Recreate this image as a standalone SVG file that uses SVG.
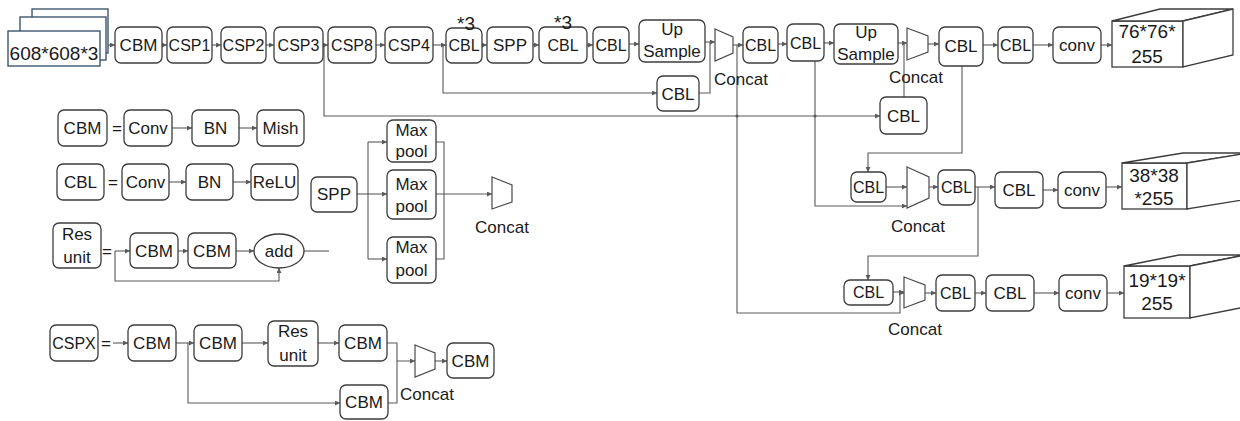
<svg xmlns="http://www.w3.org/2000/svg" width="1240" height="421" viewBox="0 0 1240 421">
  <style>
    .box { fill: #ffffff; stroke: #3c3c3c; stroke-width: 1.3; }
    .plain { fill: #ffffff; stroke: #3c3c3c; stroke-width: 1.3; }
    .inp { fill: #ffffff; stroke: #2e4a62; stroke-width: 1.3; }
    .trap { fill: #ffffff; stroke: #4a4a4a; stroke-width: 1.2; }
    .wire { fill: none; stroke: #5a5a5a; stroke-width: 1.1; }
    .arr { marker-end: url(#ah); }
    text { font-family: "Liberation Sans", Arial, sans-serif; font-size: 17px; fill: #1a1a1a; text-anchor: middle; }
    .sm { font-size: 16px; }
    .num { font-size: 19px; }
    .lbl { text-anchor: start; }
    .dot { fill: #5a5a5a; }
  </style>
  <defs>
    <marker id="ah" markerWidth="5" markerHeight="5" refX="5" refY="2.5" orient="auto" markerUnits="userSpaceOnUse">
      <path d="M0,0 L5,2.5 L0,5 z" fill="#5a5a5a"/>
    </marker>
  </defs>

  <rect width="1240" height="421" fill="#ffffff"/>

  <!-- connectors -->
  <g id="connectors">
    <!-- backbone -->
    <path class="wire arr" d="M108,45 H115"/>
    <path class="wire arr" d="M162,45 H167"/>
    <path class="wire arr" d="M212,45 H221"/>
    <path class="wire arr" d="M266,45 H274"/>
    <path class="wire arr" d="M323,45 H328"/>
    <path class="wire arr" d="M376,45 H385"/>
    <path class="wire arr" d="M433,45 H446"/>
    <path class="wire arr" d="M482,45 H487"/>
    <path class="wire arr" d="M533,45 H539"/>
    <path class="wire arr" d="M587,45 H593"/>
    <path class="wire arr" d="M629,44 H639"/>
    <path class="wire arr" d="M705,42 H715"/>
    <path class="wire" d="M699,93 H710 V42"/>
    <path class="wire arr" d="M443,45 V93 H657"/>
    <path class="wire arr" d="M324,45 V116 H880"/>
    <path class="wire arr" d="M733,45 H743"/>
    <path class="wire arr" d="M737,45 V313 H900 V293 H904"/>
    <path class="wire arr" d="M778,44 H787"/>
    <path class="wire arr" d="M824,43 H834"/>
    <path class="wire arr" d="M898,43 H907"/>
    <path class="wire" d="M904,97 V43"/>
    <path class="wire arr" d="M928,44 H939"/>
    <path class="wire arr" d="M983,45 H998"/>
    <path class="wire arr" d="M1033,45 H1053"/>
    <path class="wire arr" d="M1101,45 H1112"/>
    <circle class="dot" cx="737" cy="116" r="1.6"/>
    <circle class="dot" cx="815" cy="116" r="1.6"/>

    <!-- middle scale -->
    <path class="wire arr" d="M962,66 V153 H868 V172"/>
    <path class="wire arr" d="M815,61 V206 H907"/>
    <path class="wire arr" d="M886,187 H907"/>
    <path class="wire arr" d="M929,187 H938"/>
    <path class="wire arr" d="M975,187 H995"/>
    <path class="wire arr" d="M978,187 V256 H868 V280"/>
    <path class="wire arr" d="M1043,190 H1058"/>
    <path class="wire arr" d="M1106,187 H1122"/>

    <!-- small scale -->
    <path class="wire arr" d="M893,292 H904"/>
    <path class="wire arr" d="M925,293 H936"/>
    <path class="wire arr" d="M975,293 H986"/>
    <path class="wire arr" d="M1034,293 H1059"/>
    <path class="wire arr" d="M1107,293 H1124"/>

    <!-- CBM legend -->
    <path class="wire arr" d="M172,128 H192"/>
    <path class="wire arr" d="M239,128 H257"/>
    <!-- CBL legend -->
    <path class="wire arr" d="M169,182 H186"/>
    <path class="wire arr" d="M233,182 H251"/>
    <!-- Res unit legend -->
    <path class="wire arr" d="M115,251 H130"/>
    <path class="wire arr" d="M178,251 H188"/>
    <path class="wire arr" d="M236,251 H254"/>
    <path class="wire" d="M304,251 H329"/>
    <path class="wire arr" d="M115,251 V281 H279 V268"/>

    <!-- SPP legend -->
    <path class="wire" d="M357,194 H368"/>
    <path class="wire" d="M368,142 V259"/>
    <path class="wire arr" d="M368,142 H387"/>
    <path class="wire arr" d="M368,194 H387"/>
    <path class="wire arr" d="M368,259 H387"/>
    <path class="wire" d="M436,142 H444 V259 H436"/>
    <path class="wire arr" d="M436,194 H492" stroke-width="1.6"/>

    <!-- CSPX legend -->
    <path class="wire arr" d="M113,343 H128"/>
    <path class="wire arr" d="M176,343 H194"/>
    <path class="wire arr" d="M188,343 V403 H340"/>
    <path class="wire arr" d="M242,343 H268"/>
    <path class="wire arr" d="M318,343 H339"/>
    <path class="wire arr" d="M387,343 H397 V361 H415"/>
    <path class="wire" d="M388,403 H397 V361"/>
    <path class="wire arr" d="M435,361 H447"/>
  </g>

  <!-- input tensor -->
  <g id="input">
    <rect class="inp" x="32" y="9" width="76" height="44"/>
    <rect class="inp" x="20" y="17" width="86" height="43"/>
    <rect class="inp" x="8" y="31" width="92" height="35"/>
    <text class="num" x="54" y="60">608*608*3</text>
  </g>

  <!-- backbone -->
  <g id="cbm0"><rect class="box" x="115" y="27" width="47" height="36" rx="6"/><text x="138.5" y="51">CBM</text></g>
  <g id="csp1"><rect class="box" x="167" y="27" width="45" height="36" rx="6"/><text class="sm" x="189.5" y="51">CSP1</text></g>
  <g id="csp2"><rect class="box" x="221" y="27" width="45" height="36" rx="6"/><text class="sm" x="243.5" y="51">CSP2</text></g>
  <g id="csp3"><rect class="box" x="274" y="27" width="49" height="36" rx="6"/><text class="sm" x="298.5" y="51">CSP3</text></g>
  <g id="csp8"><rect class="box" x="328" y="27" width="48" height="36" rx="6"/><text class="sm" x="352" y="51">CSP8</text></g>
  <g id="csp4"><rect class="box" x="385" y="27" width="48" height="36" rx="6"/><text class="sm" x="409" y="51">CSP4</text></g>

  <!-- neck -->
  <g id="cbl-x3-a"><rect class="box" x="446" y="28" width="36" height="35" rx="6"/><text class="sm" x="464" y="51">CBL</text><text class="num" x="466" y="30">*3</text></g>
  <g id="spp"><rect class="box" x="487" y="27" width="46" height="36" rx="6"/><text x="510" y="51">SPP</text></g>
  <g id="cbl-x3-b"><rect class="box" x="539" y="27" width="48" height="36" rx="6"/><text class="sm" x="563" y="51">CBL</text><text class="num" x="563" y="29">*3</text></g>
  <g id="cbl-1"><rect class="box" x="593" y="27" width="36" height="36" rx="6"/><text class="sm" x="611" y="51">CBL</text></g>
  <g id="upsample-1"><rect class="box" x="639" y="20" width="66" height="42" rx="6"/><text x="672" y="35">Up</text><text x="672" y="57">Sample</text></g>
  <g id="cbl-lat-1"><rect class="box" x="657" y="76" width="42" height="35" rx="6"/><text x="678" y="100">CBL</text></g>
  <g id="concat-1">
    <polygon class="trap" points="715,29 733,37 733,53 715,61"/>
    <text x="741" y="85">Concat</text>
  </g>
  <g id="cbl-2"><rect class="box" x="743" y="27" width="35" height="36" rx="6"/><text class="sm" x="760.5" y="51">CBL</text></g>
  <g id="cbl-3"><rect class="box" x="787" y="24" width="37" height="37" rx="6"/><text class="sm" x="805.5" y="49">CBL</text></g>
  <g id="upsample-2"><rect class="box" x="834" y="24" width="64" height="40" rx="6"/><text x="866" y="38">Up</text><text x="866" y="60">Sample</text></g>
  <g id="cbl-lat-2"><rect class="box" x="880" y="97" width="47" height="37" rx="6"/><text x="903.5" y="122">CBL</text></g>
  <g id="concat-2">
    <polygon class="trap" points="907,28 928,36 928,52 907,60"/>
    <text x="916" y="83">Concat</text>
  </g>

  <!-- large-scale head -->
  <g id="cbl-h1a"><rect class="box" x="939" y="27" width="44" height="39" rx="6"/><text x="961" y="52">CBL</text></g>
  <g id="cbl-h1b"><rect class="box" x="998" y="27" width="35" height="36" rx="6"/><text class="sm" x="1015.5" y="51">CBL</text></g>
  <g id="conv-h1"><rect class="box" x="1053" y="27" width="48" height="36" rx="6"/><text x="1077" y="51">conv</text></g>
  <g id="out-76">
    <rect class="plain" x="1112" y="21" width="71" height="46"/>
    <polygon class="plain" points="1112,21 1160,9 1233,9 1183,21"/>
    <polygon class="plain" points="1183,21 1233,9 1233,55 1183,67"/>
    <text class="num" x="1147" y="38">76*76*</text>
    <text class="num" x="1147" y="63">255</text>
  </g>

  <!-- medium-scale head -->
  <g id="cbl-m-lat"><rect class="box" x="851" y="172" width="35" height="30" rx="6"/><text class="sm" x="868.5" y="193">CBL</text></g>
  <g id="concat-3">
    <polygon class="trap" points="907,167 929,177 929,198 907,208"/>
    <text x="918" y="232">Concat</text>
  </g>
  <g id="cbl-m1"><rect class="box" x="938" y="170" width="37" height="35" rx="6"/><text class="sm" x="956.5" y="193">CBL</text></g>
  <g id="cbl-m2"><rect class="box" x="995" y="172" width="48" height="36" rx="6"/><text x="1019" y="196">CBL</text></g>
  <g id="conv-m"><rect class="box" x="1058" y="172" width="48" height="36" rx="6"/><text x="1082" y="196">conv</text></g>
  <g id="out-38">
    <rect class="plain" x="1122" y="163" width="65" height="46"/>
    <polygon class="plain" points="1122,163 1183,153 1248,153 1187,163"/>
    <polygon class="plain" points="1187,163 1248,153 1248,199 1187,209"/>
    <text class="num" x="1154" y="182">38*38</text>
    <text class="num" x="1154" y="205">*255</text>
  </g>

  <!-- small-scale head -->
  <g id="cbl-s-lat"><rect class="box" x="844" y="280" width="49" height="25" rx="6"/><text class="sm" x="868.5" y="298">CBL</text></g>
  <g id="concat-4">
    <polygon class="trap" points="904,277 925,285 925,300 904,308"/>
    <text x="915" y="335">Concat</text>
  </g>
  <g id="cbl-s1"><rect class="box" x="936" y="275" width="39" height="36" rx="6"/><text class="sm" x="955.5" y="299">CBL</text></g>
  <g id="cbl-s2"><rect class="box" x="986" y="275" width="48" height="36" rx="6"/><text x="1010" y="299">CBL</text></g>
  <g id="conv-s"><rect class="box" x="1059" y="275" width="48" height="36" rx="6"/><text x="1083" y="299">conv</text></g>
  <g id="out-19">
    <rect class="plain" x="1124" y="266" width="66" height="52"/>
    <polygon class="plain" points="1124,266 1179,255 1245,255 1190,266"/>
    <polygon class="plain" points="1190,266 1245,255 1245,307 1190,318"/>
    <text class="num" x="1157" y="287">19*19*</text>
    <text class="num" x="1157" y="310">255</text>
  </g>

  <!-- CBM definition -->
  <g id="def-cbm"><rect class="box" x="58" y="110" width="49" height="36" rx="6"/><text x="82.5" y="134">CBM</text></g>
  <text x="117" y="134">=</text>
  <g id="def-cbm-conv"><rect class="box" x="124" y="110" width="48" height="36" rx="6"/><text x="148" y="134">Conv</text></g>
  <g id="def-cbm-bn"><rect class="box" x="192" y="110" width="47" height="36" rx="6"/><text x="215.5" y="134">BN</text></g>
  <g id="def-cbm-mish"><rect class="box" x="257" y="110" width="47" height="36" rx="6"/><text x="280.5" y="134">Mish</text></g>

  <!-- CBL definition -->
  <g id="def-cbl"><rect class="box" x="57" y="164" width="47" height="36" rx="6"/><text x="80.5" y="188">CBL</text></g>
  <text x="113" y="188">=</text>
  <g id="def-cbl-conv"><rect class="box" x="122" y="164" width="47" height="36" rx="6"/><text x="145.5" y="188">Conv</text></g>
  <g id="def-cbl-bn"><rect class="box" x="186" y="164" width="47" height="36" rx="6"/><text x="209.5" y="188">BN</text></g>
  <g id="def-cbl-relu"><rect class="box" x="251" y="164" width="47" height="36" rx="6"/><text x="274.5" y="188">ReLU</text></g>

  <!-- Res unit definition -->
  <g id="def-res"><rect class="box" x="53" y="223" width="48" height="45" rx="6"/><text x="77" y="240">Res</text><text x="77" y="263">unit</text></g>
  <text x="107" y="257">=</text>
  <g id="def-res-cbm1"><rect class="box" x="130" y="233" width="48" height="35" rx="6"/><text x="154" y="257">CBM</text></g>
  <g id="def-res-cbm2"><rect class="box" x="188" y="233" width="48" height="35" rx="6"/><text x="212" y="257">CBM</text></g>
  <g id="def-res-add"><ellipse class="box" cx="279" cy="251" rx="25" ry="17"/><text x="279" y="257">add</text></g>

  <!-- SPP definition -->
  <g id="def-spp"><rect class="box" x="311" y="177" width="46" height="35" rx="6"/><text x="334" y="200">SPP</text></g>
  <g id="def-pool1"><rect class="box" x="387" y="120" width="49" height="42" rx="6"/><text x="411.5" y="136">Max</text><text x="411.5" y="157">pool</text></g>
  <g id="def-pool2"><rect class="box" x="387" y="170" width="49" height="49" rx="6"/><text x="411.5" y="190">Max</text><text x="411.5" y="212">pool</text></g>
  <g id="def-pool3"><rect class="box" x="387" y="237" width="49" height="46" rx="6"/><text x="411.5" y="253">Max</text><text x="411.5" y="276">pool</text></g>
  <g id="def-spp-concat">
    <polygon class="trap" points="492,177 512,185 512,202 492,209"/>
    <text x="502" y="233">Concat</text>
  </g>

  <!-- CSPX definition -->
  <g id="def-cspx"><rect class="box" x="50" y="325" width="48" height="36" rx="6"/><text class="sm" x="74" y="349">CSPX</text></g>
  <text x="106" y="349">=</text>
  <g id="def-cspx-cbm1"><rect class="box" x="128" y="325" width="48" height="36" rx="6"/><text x="152" y="349">CBM</text></g>
  <g id="def-cspx-cbm2"><rect class="box" x="194" y="325" width="48" height="36" rx="6"/><text x="218" y="349">CBM</text></g>
  <g id="def-cspx-res"><rect class="box" x="268" y="321" width="50" height="45" rx="6"/><text x="293" y="337">Res</text><text x="293" y="361">unit</text></g>
  <g id="def-cspx-cbm3"><rect class="box" x="339" y="325" width="48" height="36" rx="6"/><text x="363" y="349">CBM</text></g>
  <g id="def-cspx-cbm4"><rect class="box" x="340" y="385" width="48" height="34" rx="6"/><text x="364" y="408">CBM</text></g>
  <g id="def-cspx-concat">
    <polygon class="trap" points="415,345 435,353 435,369 415,377"/>
    <text class="lbl" x="400" y="400">Concat</text>
  </g>
  <g id="def-cspx-cbm5"><rect class="box" x="447" y="343" width="47" height="35" rx="6"/><text x="470.5" y="367">CBM</text></g>
</svg>
